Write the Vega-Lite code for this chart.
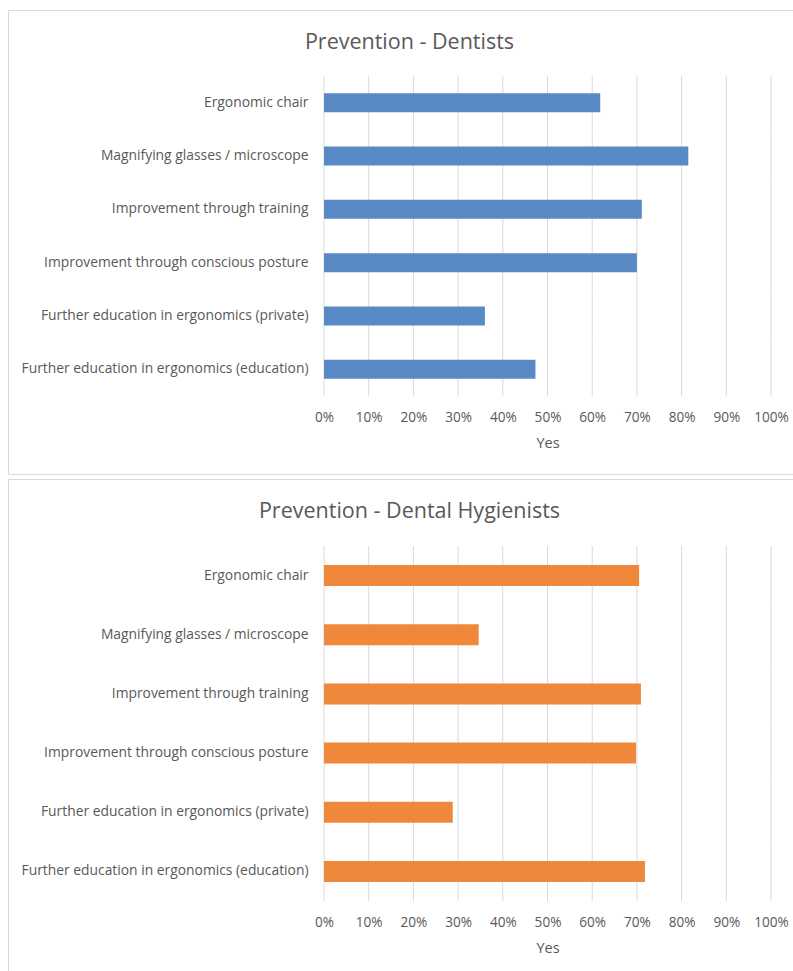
{
  "$schema": "https://vega.github.io/schema/vega-lite/v6.json",
  "padding": {"left": 7, "top": 9, "right": 0, "bottom": 0},
  "autosize": {"type": "pad"},
  "spacing": 3,
  "background": "white",
  "config": {
    "view": {"stroke": "#d9d9d9", "strokeWidth": 1},
    "font": "Open Sans",
    "axis": {"labelFont": "Open Sans", "titleFont": "Open Sans"}
  },
  "datasets": {
    "dentists": [
      {"cat": "Ergonomic chair", "v": 0.618},
      {"cat": "Magnifying glasses / microscope", "v": 0.815},
      {"cat": "Improvement through training", "v": 0.711},
      {"cat": "Improvement through conscious posture", "v": 0.70},
      {"cat": "Further education in ergonomics (private)", "v": 0.36},
      {"cat": "Further education in ergonomics (education)", "v": 0.473}
    ],
    "hygienists": [
      {"cat": "Ergonomic chair", "v": 0.705},
      {"cat": "Magnifying glasses / microscope", "v": 0.346},
      {"cat": "Improvement through training", "v": 0.709},
      {"cat": "Improvement through conscious posture", "v": 0.698},
      {"cat": "Further education in ergonomics (private)", "v": 0.288},
      {"cat": "Further education in ergonomics (education)", "v": 0.718}
    ],
    "grid": [
      {"cat": "Ergonomic chair", "g": [0, 0.1, 0.2, 0.3, 0.4, 0.5, 0.6, 0.7, 0.8, 0.9, 1]},
      {"cat": "Magnifying glasses / microscope", "g": [0, 0.1, 0.2, 0.3, 0.4, 0.5, 0.6, 0.7, 0.8, 0.9, 1]},
      {"cat": "Improvement through training", "g": [0, 0.1, 0.2, 0.3, 0.4, 0.5, 0.6, 0.7, 0.8, 0.9, 1]},
      {"cat": "Improvement through conscious posture", "g": [0, 0.1, 0.2, 0.3, 0.4, 0.5, 0.6, 0.7, 0.8, 0.9, 1]},
      {"cat": "Further education in ergonomics (private)", "g": [0, 0.1, 0.2, 0.3, 0.4, 0.5, 0.6, 0.7, 0.8, 0.9, 1]},
      {"cat": "Further education in ergonomics (education)", "g": [0, 0.1, 0.2, 0.3, 0.4, 0.5, 0.6, 0.7, 0.8, 0.9, 1]}
    ]
  },
  "vconcat": [
    {
      "width": 787,
      "height": 464,
      "title": {"text": "Prevention - Dentists", "fontSize": 21.5, "font": "Open Sans", "fontWeight": "normal", "color": "#595959", "anchor": "middle", "baseline": "middle", "offset": -54, "dx": 8},
      "encoding": {
        "x": {"field": "v", "type": "quantitative",
          "scale": {"domain": [0, 1], "range": [316, 763], "nice": false},
          "axis": {"orient": "bottom", "offset": -78, "values": [0, 0.1, 0.2, 0.3, 0.4, 0.5, 0.6, 0.7, 0.8, 0.9, 1], "format": ".0%", "domain": false, "ticks": false, "grid": false, "labelPadding": 14.5, "labelFontSize": 13.6, "labelColor": "#595959", "labelFlush": false, "title": "Yes", "titleFontSize": 14.5, "titleColor": "#595959", "titleFontWeight": "normal", "titlePadding": 12.5}},
        "y": {"field": "cat", "type": "nominal",
          "sort": ["Ergonomic chair", "Magnifying glasses / microscope", "Improvement through training", "Improvement through conscious posture", "Further education in ergonomics (private)", "Further education in ergonomics (education)"],
          "scale": {"type": "band", "range": [66, 386], "paddingInner": 0.644, "paddingOuter": 0.322},
          "axis": {"orient": "left", "offset": -316, "title": null, "domain": false, "ticks": false, "grid": false, "labelPadding": 16, "labelFontSize": 13.85, "labelColor": "#595959", "labelLimit": 400}}
      },
      "layer": [
        {"data": {"name": "grid"}, "transform": [{"flatten": ["g"], "as": ["v"]}],
          "mark": {"type": "tick", "size": 53.333, "thickness": 1, "color": "#d9d9d9", "opacity": 1}},
        {"data": {"name": "dentists"}, "mark": {"type": "bar", "color": "#5a8ac6"}}
      ]
    },
    {
      "width": 787,
      "height": 492,
      "title": {"text": "Prevention - Dental Hygienists", "fontSize": 21.5, "font": "Open Sans", "fontWeight": "normal", "color": "#595959", "anchor": "middle", "baseline": "middle", "offset": -54, "dx": 8},
      "encoding": {
        "x": {"field": "v", "type": "quantitative",
          "scale": {"domain": [0, 1], "range": [316, 763], "nice": false},
          "axis": {"orient": "bottom", "offset": -70, "values": [0, 0.1, 0.2, 0.3, 0.4, 0.5, 0.6, 0.7, 0.8, 0.9, 1], "format": ".0%", "domain": false, "ticks": false, "grid": false, "labelPadding": 14.5, "labelFontSize": 13.6, "labelColor": "#595959", "labelFlush": false, "title": "Yes", "titleFontSize": 14.5, "titleColor": "#595959", "titleFontWeight": "normal", "titlePadding": 12.5}},
        "y": {"field": "cat", "type": "nominal",
          "sort": ["Ergonomic chair", "Magnifying glasses / microscope", "Improvement through training", "Improvement through conscious posture", "Further education in ergonomics (private)", "Further education in ergonomics (education)"],
          "scale": {"type": "band", "range": [67, 422], "paddingInner": 0.645, "paddingOuter": 0.3225},
          "axis": {"orient": "left", "offset": -316, "title": null, "domain": false, "ticks": false, "grid": false, "labelPadding": 16, "labelFontSize": 13.85, "labelColor": "#595959", "labelLimit": 400}}
      },
      "layer": [
        {"data": {"name": "grid"}, "transform": [{"flatten": ["g"], "as": ["v"]}],
          "mark": {"type": "tick", "size": 59.167, "thickness": 1, "color": "#d9d9d9", "opacity": 1}},
        {"data": {"name": "hygienists"}, "mark": {"type": "bar", "color": "#f0883c"}}
      ]
    }
  ]
}
